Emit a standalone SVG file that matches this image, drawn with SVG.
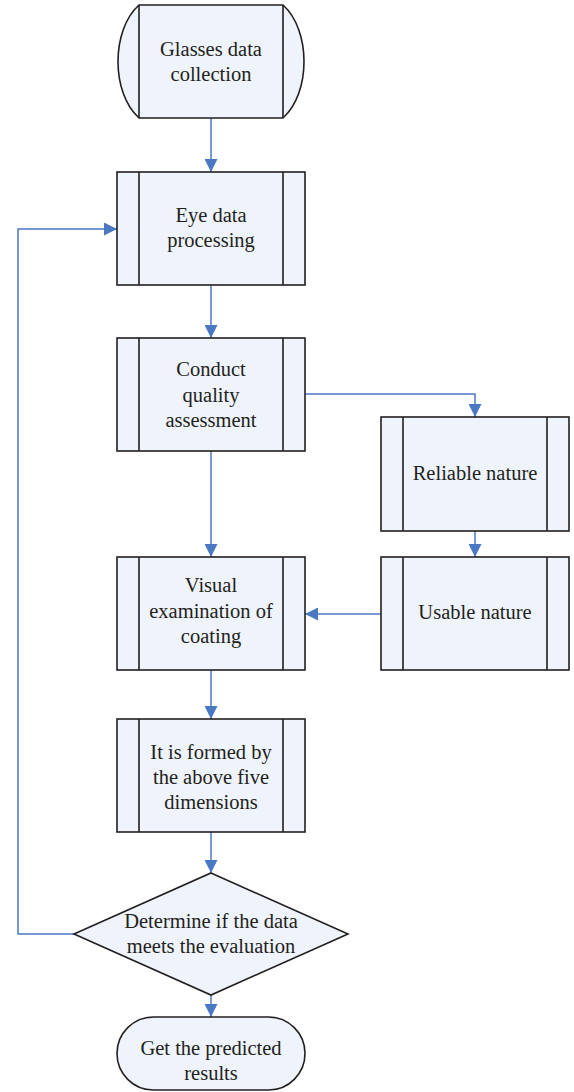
<svg xmlns="http://www.w3.org/2000/svg" width="574" height="1092" viewBox="0 0 574 1092" font-family="'Liberation Serif', 'DejaVu Serif', serif">
<defs>
<style>
.n{fill:#EFF3FB;stroke:#231F20;stroke-width:1.6}
.l{fill:none;stroke:#231F20;stroke-width:1.6}
.c{fill:none;stroke:#4A78C2;stroke-width:1.5}
.t{font-family:'Liberation Serif', serif;font-size:20.5px;fill:#231F20;text-anchor:middle}
</style>
<marker id="a" viewBox="0 0 10 10" refX="10" refY="5" markerWidth="13" markerHeight="13" markerUnits="userSpaceOnUse" orient="auto">
<path d="M0,0 L10,5 L0,10 Z" fill="#4A78C2"/>
</marker>
</defs>
<rect width="574" height="1092" fill="#fff"/>
<g id="connectors">
<path class="c" d="M211,118 V172" marker-end="url(#a)"/>
<path class="c" d="M211,285 V338" marker-end="url(#a)"/>
<path class="c" d="M305,394 H475 V417" marker-end="url(#a)"/>
<path class="c" d="M211,451 V557" marker-end="url(#a)"/>
<path class="c" d="M475,531 V557" marker-end="url(#a)"/>
<path class="c" d="M381,614 H305" marker-end="url(#a)"/>
<path class="c" d="M211,670 V719" marker-end="url(#a)"/>
<path class="c" d="M211,832 V873" marker-end="url(#a)"/>
<path class="c" d="M211,995 V1017" marker-end="url(#a)"/>
<path class="c" d="M74,934 H18 V229 H117" marker-end="url(#a)"/>
</g>
<g id="n1">
<path class="n" d="M139,5 H283 C311,30 311,93 283,118 H139 C111,93 111,30 139,5 Z"/>
<path class="l" d="M139,5 V118 M283,5 V118"/>
<text class="t" x="211" y="56">Glasses data</text>
<text class="t" x="211" y="81">collection</text>
</g>
<g id="n2">
<rect class="n" x="117" y="172" width="188" height="113"/>
<path class="l" d="M139,172 V285 M283,172 V285"/>
<text class="t" x="211" y="222">Eye data</text>
<text class="t" x="211" y="247">processing</text>
</g>
<g id="n3">
<rect class="n" x="117" y="338" width="188" height="113"/>
<path class="l" d="M139,338 V451 M283,338 V451"/>
<text class="t" x="211" y="376">Conduct</text>
<text class="t" x="211" y="402">quality</text>
<text class="t" x="211" y="427">assessment</text>
</g>
<g id="n4">
<rect class="n" x="381" y="417" width="188" height="114"/>
<path class="l" d="M403,417 V531 M547,417 V531"/>
<text class="t" x="475" y="480">Reliable nature</text>
</g>
<g id="n5">
<rect class="n" x="117" y="557" width="188" height="113"/>
<path class="l" d="M139,557 V670 M283,557 V670"/>
<text class="t" x="211" y="592">Visual</text>
<text class="t" x="211" y="618">examination of</text>
<text class="t" x="211" y="643">coating</text>
</g>
<g id="n6">
<rect class="n" x="381" y="557" width="188" height="113"/>
<path class="l" d="M403,557 V670 M547,557 V670"/>
<text class="t" x="475" y="619">Usable nature</text>
</g>
<g id="n7">
<rect class="n" x="117" y="719" width="188" height="113"/>
<path class="l" d="M139,719 V832 M283,719 V832"/>
<text class="t" x="211" y="759">It is formed by</text>
<text class="t" x="211" y="784">the above five</text>
<text class="t" x="211" y="809">dimensions</text>
</g>
<g id="n8">
<path class="n" d="M211,873 L348,934 L211,995 L74,934 Z"/>
<text class="t" x="211" y="928">Determine if the data</text>
<text class="t" x="211" y="953">meets the evaluation</text>
</g>
<g id="n9">
<rect class="n" x="117" y="1017" width="188" height="73" rx="36.5" ry="36.5"/>
<text class="t" x="211" y="1055">Get the predicted</text>
<text class="t" x="211" y="1080">results</text>
</g>
</svg>
